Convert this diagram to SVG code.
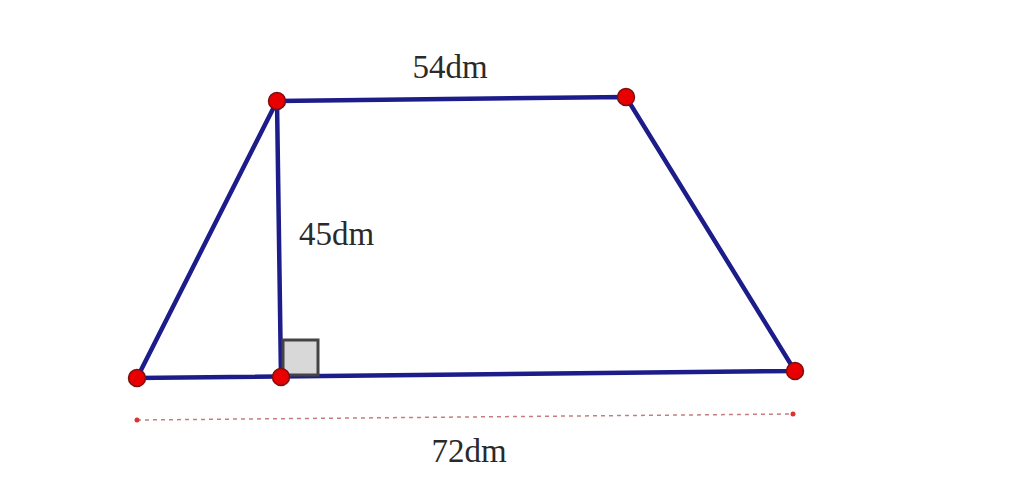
<svg xmlns="http://www.w3.org/2000/svg" width="1024" height="501" viewBox="0 0 1024 501">
<style>
.edge{stroke:#1c1c8a;stroke-width:4.5;stroke-linecap:round;fill:none}
.pt{fill:#e80000;stroke:#7a1010;stroke-width:1.5}
.lbl{font-family:"Liberation Serif",serif;font-size:33px;fill:#2a2a2a}
</style>
<rect width="1024" height="501" fill="#fff"/>
<g id="connectors">
<path class="edge" d="M277,101 L626,97 L795,371 L137,378 Z"/>
<line class="edge" x1="277" y1="101" x2="281" y2="377"/>
<rect x="283" y="340" width="35" height="35" fill="#d8d8d8" stroke="#444" stroke-width="3"/>
<line x1="137" y1="420" x2="793" y2="414" stroke="#c08080" stroke-width="1.5" stroke-dasharray="4,4"/>
</g>
<g id="dim-ends">
<circle cx="137" cy="420" r="2.5" fill="#e03030"/>
<circle cx="793" cy="414" r="2.5" fill="#e03030"/>
</g>
<g id="A"><circle class="pt" cx="277" cy="101" r="8.5"/></g>
<g id="B"><circle class="pt" cx="626" cy="97" r="8.5"/></g>
<g id="C"><circle class="pt" cx="795" cy="371" r="8.5"/></g>
<g id="D"><circle class="pt" cx="137" cy="378" r="8.5"/></g>
<g id="H"><circle class="pt" cx="281" cy="377" r="8.5"/></g>
<g id="labels">
<text class="lbl" x="450" y="78" text-anchor="middle">54dm</text>
<text class="lbl" x="299" y="245">45dm</text>
<text class="lbl" x="469" y="462" text-anchor="middle">72dm</text>
</g>
</svg>
